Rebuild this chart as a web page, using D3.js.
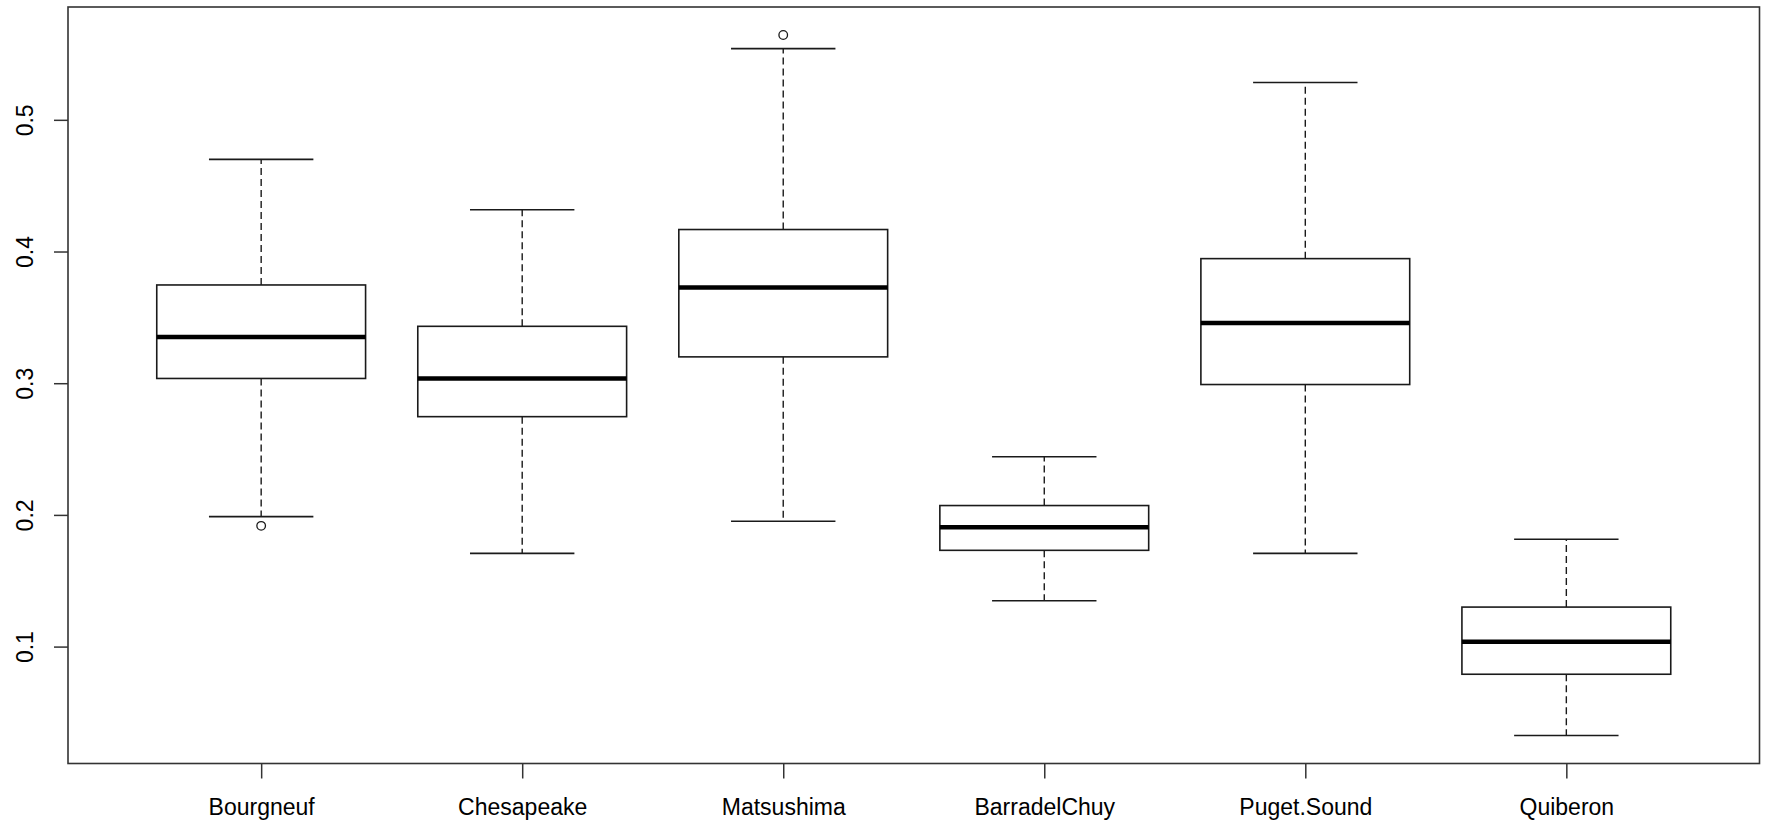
<!DOCTYPE html>
<html>
<head>
<meta charset="utf-8">
<script src="https://cdn.jsdelivr.net/npm/d3@7"></script>
<style>
  html, body { margin: 0; padding: 0; background: #fff; }
  svg { display: block; }
  text { font-family: "Liberation Sans", Arial, Helvetica, sans-serif; fill: #000; }
</style>
</head>
<body>
<svg id="chart" width="1769" height="823"></svg>
<script>
// Five-number summaries per site
const categories   = ["Bourgneuf", "Chesapeake", "Matsushima", "BarradelChuy", "Puget.Sound", "Quiberon"];
const lowerWhisker = [0.1987, 0.1708, 0.1952, 0.1348, 0.1708, 0.0325];
const q1           = [0.3036, 0.2746, 0.3200, 0.1731, 0.2990, 0.0790];
const median       = [0.3350, 0.3036, 0.3726, 0.1906, 0.3457, 0.1036];
const q3           = [0.3746, 0.3432, 0.4167, 0.2071, 0.3946, 0.1300];
const upperWhisker = [0.4700, 0.4317, 0.5541, 0.2442, 0.5284, 0.1815];
// Outlying points: [site index, value]
const outliers     = [[0, 0.1917], [2, 0.5644]];
const yTicks       = [0.1, 0.2, 0.3, 0.4, 0.5];

const frame = { left: 68, right: 1759.5, top: 7, bottom: 763.5 };

// Base-graphics style limits: data range padded by 4% on each side
const allVals = lowerWhisker.concat(upperWhisker, outliers.map(d => d[1]));
const lo = d3.min(allVals), hi = d3.max(allVals);
const pad = (hi - lo) * 0.04;

const x = d3.scaleLinear()
  .domain([0.5 - 0.24, categories.length + 0.5 + 0.24])
  .range([frame.left, frame.right]);
const y = d3.scaleLinear()
  .domain([lo - pad, hi + pad])
  .range([frame.bottom, frame.top]);

const unit = x(2) - x(1);
const boxW = 0.8 * unit;
const capW = 0.4 * unit;

const svg = d3.select("#chart");
const ink = "#1a1a1a";
const fontSize = "23px";

const rows = categories.map((c, i) => ({
  i, c, lw: lowerWhisker[i], q1: q1[i], med: median[i], q3: q3[i], uw: upperWhisker[i]
}));

const g = svg.append("g");

// Whiskers (dashed)
g.selectAll(".wh-up").data(rows).join("line")
  .attr("x1", d => x(d.i + 1)).attr("x2", d => x(d.i + 1))
  .attr("y1", d => y(d.q3)).attr("y2", d => y(d.uw))
  .attr("stroke", ink).attr("stroke-width", 1.4).attr("stroke-dasharray", "7,4");
g.selectAll(".wh-lo").data(rows).join("line")
  .attr("x1", d => x(d.i + 1)).attr("x2", d => x(d.i + 1))
  .attr("y1", d => y(d.q1)).attr("y2", d => y(d.lw))
  .attr("stroke", ink).attr("stroke-width", 1.4).attr("stroke-dasharray", "7,4");

// Staples
["uw", "lw"].forEach(k => {
  g.selectAll(".cap-" + k).data(rows).join("line")
    .attr("x1", d => x(d.i + 1) - capW / 2).attr("x2", d => x(d.i + 1) + capW / 2)
    .attr("y1", d => y(d[k])).attr("y2", d => y(d[k]))
    .attr("stroke", ink).attr("stroke-width", 1.6);
});

// Boxes
g.selectAll(".box").data(rows).join("rect")
  .attr("x", d => x(d.i + 1) - boxW / 2)
  .attr("width", boxW)
  .attr("y", d => y(d.q3))
  .attr("height", d => y(d.q1) - y(d.q3))
  .attr("fill", "#fff").attr("stroke", ink).attr("stroke-width", 1.6);

// Medians
g.selectAll(".med").data(rows).join("line")
  .attr("x1", d => x(d.i + 1) - boxW / 2).attr("x2", d => x(d.i + 1) + boxW / 2)
  .attr("y1", d => y(d.med)).attr("y2", d => y(d.med))
  .attr("stroke", "#000").attr("stroke-width", 4.5);

// Outliers
g.selectAll(".out").data(outliers).join("circle")
  .attr("cx", d => x(d[0] + 1)).attr("cy", d => y(d[1]))
  .attr("r", 4.3).attr("fill", "none").attr("stroke", ink).attr("stroke-width", 1.3);

// Y axis
const yAxis = svg.append("g")
  .attr("transform", `translate(${frame.left},0)`)
  .call(d3.axisLeft(y).tickValues(yTicks).tickSize(14).tickFormat(d3.format(".1f")));
yAxis.select(".domain").remove();
yAxis.selectAll(".tick line").attr("stroke", "#333").attr("stroke-width", 1.5);
yAxis.selectAll(".tick text")
  .attr("transform", "rotate(-90)")
  .attr("x", 0).attr("y", -35).attr("dy", null)
  .attr("text-anchor", "middle")
  .style("font-size", fontSize).style("font-family", "'Liberation Sans', Arial, sans-serif")
  .attr("fill", "#000");

// X axis
const xAxis = svg.append("g")
  .attr("transform", `translate(0,${frame.bottom})`)
  .call(d3.axisBottom(x).tickValues(d3.range(1, categories.length + 1))
    .tickSize(15).tickFormat(d => categories[d - 1]));
xAxis.select(".domain").remove();
xAxis.selectAll(".tick line").attr("stroke", "#333").attr("stroke-width", 1.5);
xAxis.selectAll(".tick text")
  .attr("y", 51).attr("dy", null)
  .style("font-size", fontSize).style("font-family", "'Liberation Sans', Arial, sans-serif")
  .attr("fill", "#000");

// Plot frame
svg.append("rect")
  .attr("x", frame.left).attr("y", frame.top)
  .attr("width", frame.right - frame.left).attr("height", frame.bottom - frame.top)
  .attr("fill", "none").attr("stroke", "#333").attr("stroke-width", 1.6);
</script>
</body>
</html>
